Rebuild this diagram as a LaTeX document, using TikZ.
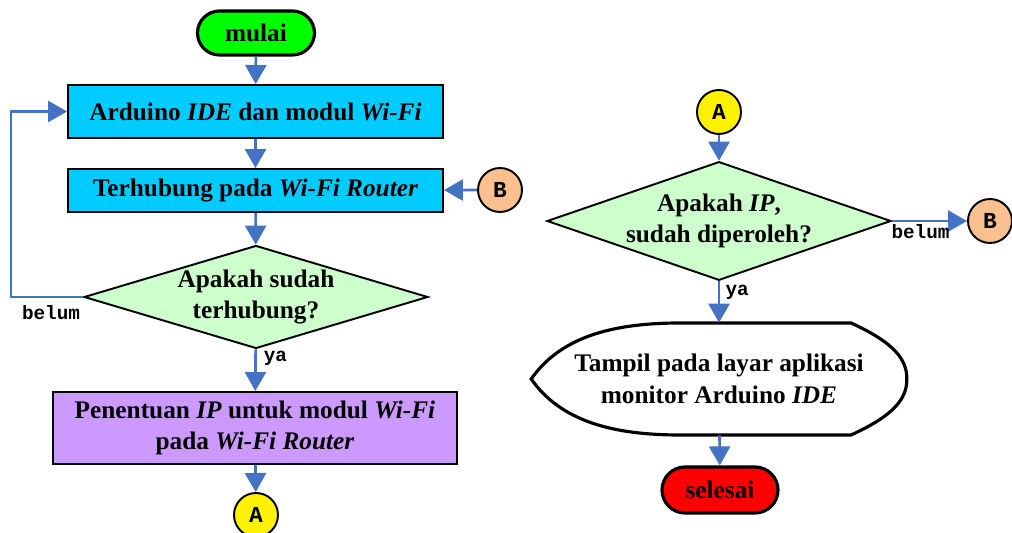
\documentclass[tikz,border=0pt]{standalone}
\usepackage{fontspec}
\setmainfont{Liberation Serif}
\setmonofont{Liberation Mono}
\usetikzlibrary{arrows.meta,shapes.geometric,shapes.misc}

\definecolor{flowblue}{HTML}{4472C4}
\definecolor{startgreen}{HTML}{00FF00}
\definecolor{boxcyan}{HTML}{00CCFF}
\definecolor{decgreen}{HTML}{CCFFCC}
\definecolor{boxpurple}{HTML}{CC99FF}
\definecolor{peach}{HTML}{FAC090}

\begin{document}
\begin{tikzpicture}[x=0.02cm, y=-0.02cm,
    font=\fontsize{14.4}{18}\selectfont\bfseries,
    terminal/.style={rounded rectangle, draw, line width=1.8pt, inner sep=0pt},
    process/.style={rectangle, draw, line width=1.1pt, align=center, inner sep=0pt},
    decision/.style={diamond, draw, line width=1.1pt, fill=decgreen, align=center, inner sep=0pt},
    connector/.style={circle, draw, line width=1.1pt, minimum size=0.88cm, inner sep=0pt,
        font=\fontsize{13}{15}\selectfont\ttfamily\bfseries},
    flow/.style={draw=flowblue, line width=1.5pt, -{Triangle[length=3.8mm, width=4.2mm]}},
    lbl/.style={font=\fontsize{11}{13}\selectfont\ttfamily\bfseries, inner sep=1pt}]

    \useasboundingbox (0,0) rectangle (1012,533);

    \node[terminal, fill=startgreen, minimum width=2.34cm, minimum height=0.88cm] (mulai) at (256,33) {mulai};
    \node[process, fill=boxcyan, minimum width=7.5cm, minimum height=1.06cm] (arduino) at (255.5,111.5) {Arduino \textit{IDE} dan modul \textit{Wi-Fi}};
    \node[process, fill=boxcyan, minimum width=7.5cm, minimum height=0.86cm] (router) at (255.5,190.5) {Terhubung pada \textit{Wi-Fi Router}};
    \node[decision, aspect=3.3, minimum width=6.88cm, minimum height=2.06cm] (cek) at (256,297) {Apakah sudah\\terhubung?};
    \node[process, fill=boxpurple, minimum width=8.08cm, minimum height=1.44cm] (ip) at (255,428) {Penentuan \textit{IP} untuk modul \textit{Wi-Fi}\\pada \textit{Wi-Fi Router}};
    \node[connector, fill=yellow] (A1) at (256,515) {A};
    \node[connector, fill=peach] (B1) at (500,190) {B};

    \node[connector, fill=yellow] (A2) at (719,112) {A};
    \node[decision, aspect=2.9, minimum width=6.88cm, minimum height=2.36cm] (cekip) at (719,221) {Apakah \textit{IP},\\sudah diperoleh?};
    \node[connector, fill=peach] (B2) at (990,221) {B};
    \node[align=center, minimum width=7.5cm, minimum height=2.24cm, inner sep=0pt] (tampil) at (719,379) {Tampil pada layar aplikasi\\monitor Arduino \textit{IDE}};
    \draw[line width=1.8pt] (tampil.west) .. controls (560,338) and (610,323) .. (680,323) -- (851,323)
        .. controls (895,343) and (907,360) .. (tampil.east) .. controls (907,398) and (895,415) .. (851,435)
        -- (680,435) .. controls (610,435) and (560,420) .. cycle;
    \node[terminal, fill=red, minimum width=2.32cm, minimum height=0.92cm] (selesai) at (720,490) {selesai};

    \draw[flow] (mulai) -- (arduino);
    \draw[flow] (arduino) -- (router);
    \draw[flow] (router) -- (cek);
    \draw[flow] (cek) -- node[lbl, right, pos=0.22, xshift=3pt] {ya} (ip);
    \draw[flow] (ip) -- (A1);
    \draw[flow] (B1) -- (router);
    \draw[flow] (cek.west) node[lbl, anchor=north east, yshift=-3pt] {belum} -- ++(-72,0) |- (arduino.west);

    \draw[flow] (A2) -- (cekip);
    \draw[flow] (cekip) -- node[lbl, right, pos=0.27, xshift=2pt] {ya} (tampil);
    \draw[flow] (cekip.east) -- node[lbl, below, pos=0.38] {belum} (B2);
    \draw[flow] (tampil) -- (selesai);

\end{tikzpicture}
\end{document}
